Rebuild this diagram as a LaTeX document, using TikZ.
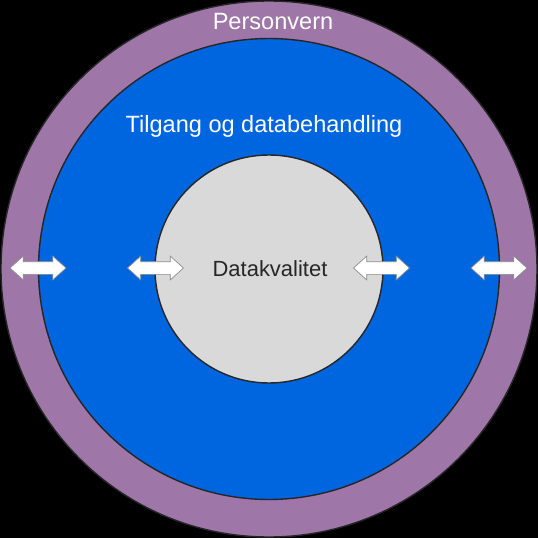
\documentclass[tikz,border=0pt]{standalone}
\usepackage{fontspec}
\setmainfont{Liberation Sans}
\usetikzlibrary{shapes.arrows}
\definecolor{lilla}{RGB}{158,118,168}
\definecolor{blaa}{RGB}{0,102,224}
\definecolor{graa}{RGB}{217,217,217}
\tikzset{
  ring/.style={circle,draw=black!85,line width=0.8pt,inner sep=0pt},
  pil/.style={double arrow,draw=black!45,fill=white,line width=0.4pt,
    minimum width=0.46cm,minimum height=1.12cm,inner xsep=0pt,inner ysep=0.12cm,
    double arrow head extend=0.11cm,double arrow tip angle=84},
}
\tikzstyle{every node}=[font=\fontsize{13.4}{16}\selectfont]
\begin{document}
\begin{tikzpicture}
  \fill[black] (-5.38,-5.38) rectangle (5.38,5.38);
  \useasboundingbox (-5.38,-5.38) rectangle (5.38,5.38);
  % sirkler
  \node[ring,fill=lilla,minimum size=10.72cm] (ytre) at (0,0) {};
  \node[ring,fill=blaa,minimum size=9.22cm] (midt) at (0,0) {};
  \node[ring,fill=graa,minimum size=4.56cm] (indre) at (0,0) {};
  % tekster
  \node[white] (pv) at (0.08,4.94) {Personvern};
  \node[white] (tg) at (-0.1,2.86) {Tilgang og databehandling};
  \node[black!85,font=\fontsize{12.5}{15}\selectfont] (dk) at (0.02,0) {Datakvalitet};
  % piler
  \node[pil] (p1) at (-4.62,0.02) {};
  \node[pil] (p2) at (-2.27,0.02) {};
  \node[pil] (p3) at (2.25,0.02) {};
  \node[pil] (p4) at (4.6,0.02) {};
\end{tikzpicture}
\end{document}
